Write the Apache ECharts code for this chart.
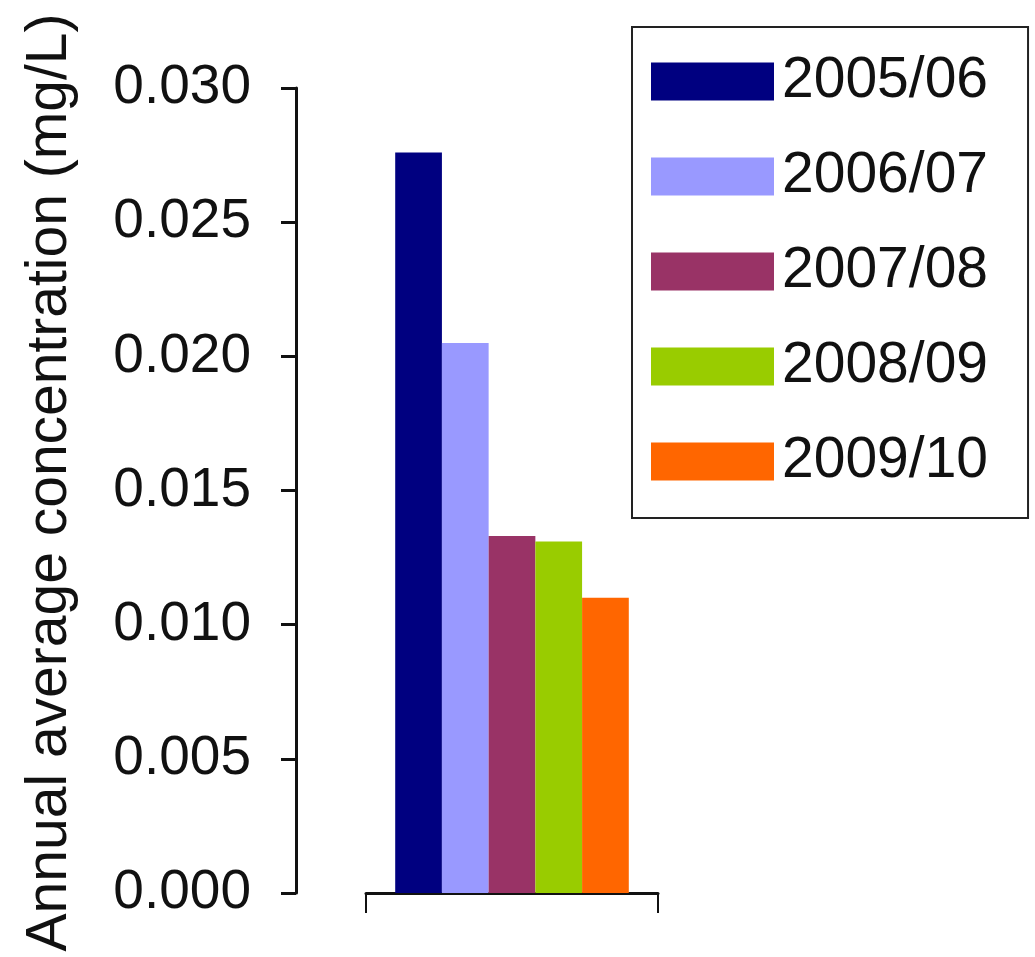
<!DOCTYPE html>
<html>
<head>
<meta charset="utf-8">
<script src="https://cdn.jsdelivr.net/npm/echarts@6/dist/echarts.min.js"></script>
<style>
html,body{margin:0;padding:0;background:#fff;}
#chart{width:1035px;height:957px;}
</style>
</head>
<body>
<div id="chart"></div>
<script>
const categories = [''];
const seriesNames = ['2005/06', '2006/07', '2007/08', '2008/09', '2009/10'];
const seriesValues = [[0.0276], [0.0205], [0.0133], [0.0131], [0.0110]];
const seriesColors = ['#000080', '#9999FF', '#993366', '#99CC00', '#FF6600'];
const yTicks = { min: 0, max: 0.03, interval: 0.005 };
const yAxisTitle = 'Annual average concentration (mg/L)';

const FONT = '"Liberation Sans", Arial, sans-serif';
const chart = echarts.init(document.getElementById('chart'));
chart.setOption({
  animation: false,
  backgroundColor: '#fff',
  grid: { left: 366, right: 377, top: 88, bottom: 64, containLabel: false, outerBoundsMode: 'none' },
  legend: {
    orient: 'vertical',
    left: 632, top: 27,
    padding: [26, 40, 28, 19],
    borderColor: '#222', borderWidth: 2,
    backgroundColor: '#fff',
    icon: 'rect',
    itemWidth: 123, itemHeight: 38, itemGap: 38,
    textStyle: { fontFamily: FONT, fontSize: 57, lineHeight: 56, color: '#111', padding: [0, 0, 0, 3] },
    data: seriesNames
  },
  xAxis: {
    type: 'category',
    data: categories,
    axisLine: { show: true, lineStyle: { color: '#111', width: 3 } },
    axisTick: { show: true, length: 20, lineStyle: { color: '#111', width: 2 } },
    axisLabel: { show: false },
    splitLine: { show: false }
  },
  yAxis: {
    type: 'value',
    min: yTicks.min, max: yTicks.max, interval: yTicks.interval,
    offset: 70,
    name: yAxisTitle,
    nameLocation: 'middle',
    nameRotate: 90,
    nameGap: 217,
    nameTextStyle: { fontFamily: FONT, fontSize: 57, color: '#111', padding: [0, 0, 0, 16] },
    axisLine: { show: true, lineStyle: { color: '#111', width: 3 } },
    axisTick: { show: true, length: 15, lineStyle: { color: '#111', width: 3 } },
    axisLabel: {
      fontFamily: FONT, fontSize: 55, color: '#111', margin: 45,
      formatter: v => v.toFixed(3)
    },
    splitLine: { show: false }
  },
  series: seriesNames.map((name, i) => ({
    name,
    type: 'bar',
    data: seriesValues[i],
    barGap: '0%',
    barCategoryGap: '20%',
    itemStyle: { color: seriesColors[i] }
  }))
});
</script>
</body>
</html>
